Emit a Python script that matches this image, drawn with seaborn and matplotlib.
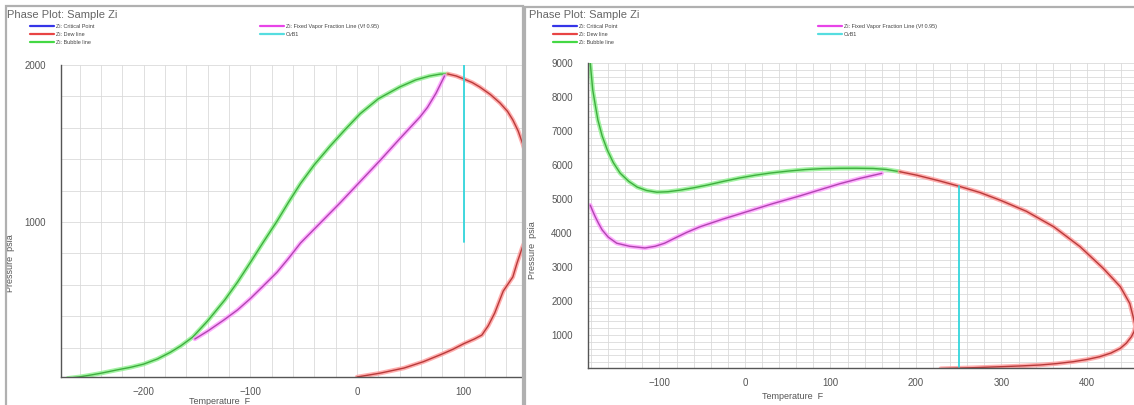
import numpy as np
import pandas as pd
import seaborn as sns
import matplotlib

matplotlib.use("Agg")
import matplotlib.pyplot as plt
import matplotlib.patheffects as pe
from matplotlib.lines import Line2D
from matplotlib.patches import Rectangle
from matplotlib.ticker import MultipleLocator

# ---- data (T in F, P in psia) ----
left_bubble_T = [-271, -260, -250, -240, -225, -212, -200, -187, -175, -165, -154, -140, -124,
                 -112, -100, -88, -75, -64, -53, -40, -25, -11, 3, 20, 40, 55, 68, 78, 85]
left_bubble_P = [5, 14, 25, 37, 58, 75, 95, 128, 170, 212, 267, 370, 503,
                 617, 742, 870, 1005, 1128, 1245, 1365, 1485, 1590, 1690, 1785, 1860, 1905, 1930, 1942, 1943]
left_dew_T = [85, 93, 100, 108, 115, 125, 134, 141, 146, 151, 155, 160, 164, 166, 165, 161, 155,
              150, 146, 141, 137, 133, 129, 123, 117, 110, 100, 90, 80, 62, 44, 22, 0]
left_dew_P = [1943, 1930, 1911, 1888, 1860, 1812, 1758, 1705, 1650, 1580, 1503, 1400, 1280, 1150, 1030, 930, 840,
              740, 650, 600, 560, 490, 420, 340, 280, 255, 225, 190, 160, 110, 70, 38, 13]
left_vf_T = [-152, -140, -125, -112, -100, -88, -75, -64, -53, -35, -16, 3, 22, 40, 59, 66, 74, 82]
left_vf_P = [255, 305, 375, 440, 512, 592, 680, 770, 866, 990, 1121, 1258, 1395, 1530, 1669, 1730, 1820, 1930]
left_cvb_T = [100, 100]
left_cvb_P = [870, 2000]

right_bubble_T = [-181, -179.5, -178, -175, -172, -167, -161, -154, -146, -136, -126, -115, -103, -90,
                  -76, -60, -44, -25, -6, 12, 30, 50, 70, 90, 111, 130, 150, 165, 181]
right_bubble_P = [9000, 8600, 8200, 7750, 7320, 6850, 6440, 6070, 5760, 5520, 5350, 5250, 5200, 5215,
                  5260, 5330, 5410, 5520, 5620, 5700, 5765, 5820, 5865, 5893, 5903, 5905, 5898, 5870, 5803]
right_dew_T = [181, 201, 228, 251, 275, 300, 329, 361, 392, 419, 439, 450, 454, 456.5, 455, 452, 446, 439,
               428, 415, 400, 384, 365, 345, 322, 300, 267, 240, 229]
right_dew_P = [5803, 5700, 5530, 5370, 5190, 4950, 4640, 4186, 3597, 2961, 2421, 1931, 1539, 1250, 1100, 951, 760, 608,
               470, 363, 280, 216, 160, 118, 90, 69, 39, 20, 12]
right_vf_T = [-181, -178, -175, -171, -167, -160, -150, -135, -117, -105, -94, -82, -68, -53, -27, 0,
              32, 64, 90, 111, 135, 160]
right_vf_P = [4820, 4640, 4470, 4270, 4090, 3880, 3700, 3610, 3560, 3610, 3700, 3850, 4020, 4180, 4400, 4610,
              4860, 5090, 5290, 5450, 5610, 5755]
right_cvb_T = [250, 250]
right_cvb_P = [69, 5375]

legend_left = ["Zi: Critical Point", "Zi: Dew line", "Zi: Bubble line"]
legend_right = ["Zi: Fixed Vapor Fraction Line (Vf 0.95)", "CvB1"]
title = "Phase Plot: Sample Zi"

W, H = 1134, 405


def fx(px):
    return px / W


def fy(py):
    return 1 - py / H


sns.set_style("white")
plt.rcParams["font.family"] = ["Liberation Sans", "DejaVu Sans"]

fig = plt.figure(figsize=(W / 100, H / 100), dpi=100)


def make_axes(left, right, top, bottom):
    return fig.add_axes([fx(left), fy(bottom), (right - left) / W, (bottom - top) / H])


def style_axes(ax, xlim, ylim, xmaj, xmin, ymaj, ymin):
    ax.set_xlim(*xlim)
    ax.set_ylim(*ylim)
    ax.xaxis.set_major_locator(MultipleLocator(xmaj))
    ax.xaxis.set_minor_locator(MultipleLocator(xmin))
    ax.yaxis.set_major_locator(MultipleLocator(ymaj))
    ax.yaxis.set_minor_locator(MultipleLocator(ymin))
    ax.set_axisbelow(True)
    ax.grid(True, which="both", color="#dadada", lw=0.6)
    for side in ["top", "right"]:
        ax.spines[side].set_visible(False)
    for side in ["left", "bottom"]:
        ax.spines[side].set_color("#555555")
        ax.spines[side].set_linewidth(1.0)
    ax.tick_params(which="major", direction="out", color="#555555", width=1.0,
                   labelsize=7, labelcolor="#555555", pad=2)
    ax.tick_params(axis="y", which="major", length=9)
    ax.tick_params(axis="x", which="major", length=5)
    ax.tick_params(which="minor", direction="out", color="#666666", width=0.7, length=3)
    ax.set_facecolor("white")


def draw_curve(ax, T, P, core, halo, lw=1.0):
    sns.lineplot(x=T, y=P, ax=ax, color=core, lw=lw, sort=False, estimator=None,
                 legend=False,
                 path_effects=[pe.Stroke(linewidth=lw + 2.2, foreground=halo, alpha=0.8),
                               pe.Normal()])


GREEN = ("#3fae3f", "#8cf08c")
RED = ("#b83a3a", "#ff9a9a")
PINK = ("#b044b0", "#ff9cff")
CYAN = ("#33d6dc", "#a8f4f6")


def draw_panel(ax, bubble, dew, vf, cvb):
    draw_curve(ax, *bubble, *GREEN)
    draw_curve(ax, *dew, *RED)
    draw_curve(ax, *vf, *PINK)
    sns.lineplot(x=cvb[0], y=cvb[1], ax=ax, color=CYAN[0], lw=1.3, sort=False,
                 estimator=None, legend=False)


# ---- left panel ----
axL = make_axes(61, 522, 65, 377)
style_axes(axL, (-277.4, 154.6), (13, 2000), 100, 20, 1000, 200)
draw_panel(axL, (left_bubble_T, left_bubble_P), (left_dew_T, left_dew_P),
           (left_vf_T, left_vf_P), (left_cvb_T, left_cvb_P))
axL.set_xlabel("Temperature  F", fontsize=6.5, color="#555555")
axL.set_ylabel("Pressure  psia", fontsize=6.5, color="#555555")
axL.xaxis.set_label_coords(0.345, -0.065)
axL.yaxis.set_label_coords(-0.1, 0.365)

# ---- right panel ----
axR = make_axes(588, 1134, 63, 368)
style_axes(axR, (-183.6, 455), (30, 9000), 100, 20, 1000, 200)
draw_panel(axR, (right_bubble_T, right_bubble_P), (right_dew_T, right_dew_P),
           (right_vf_T, right_vf_P), (right_cvb_T, right_cvb_P))
axR.set_xlabel("Temperature  F", fontsize=6.5, color="#555555")
axR.set_ylabel("Pressure  psia", fontsize=6.5, color="#555555")
axR.xaxis.set_label_coords(0.374, -0.08)
axR.yaxis.set_label_coords(-0.093, 0.387)

# ---- window frames ----
fig.add_artist(Rectangle((fx(6), fy(410)), (523 - 6) / W, (410 - 6) / H,
                         transform=fig.transFigure, fill=False, ec="#b0b0b0", lw=1.6))
fig.add_artist(Rectangle((fx(525), fy(410)), (1140 - 525) / W, (410 - 7) / H,
                         transform=fig.transFigure, fill=False, ec="#b0b0b0", lw=1.6))

# ---- titles and legends ----
legend_colors_left = ["#3535e8", "#e84444", "#44d844"]
legend_colors_right = ["#e844e8", "#55dde0"]


def add_legend(labels, colors, px, py):
    handles = [Line2D([0], [0], color=c, lw=1.6) for c in colors]
    leg = fig.legend(handles, labels, loc="upper left",
                     bbox_to_anchor=(fx(px), fy(py)), frameon=False, fontsize=4,
                     handlelength=4.3, handletextpad=0.3, labelspacing=0.55,
                     borderpad=0, borderaxespad=0)
    for t in leg.get_texts():
        t.set_color("#444444")


for x0, lx1, lx2 in [(7, 30, 260), (529, 553, 818)]:
    fig.text(fx(x0), fy(10), title, fontsize=8, color="#666666", va="top", ha="left")
    add_legend(legend_left, legend_colors_left, lx1, 24)
    add_legend(legend_right, legend_colors_right, lx2, 24)

fig.savefig("out.png", dpi=100)
